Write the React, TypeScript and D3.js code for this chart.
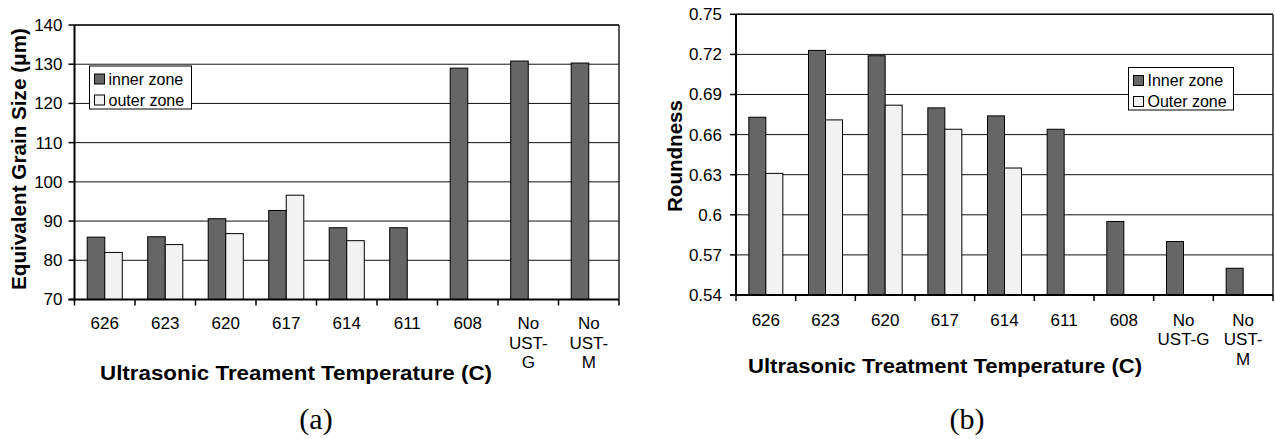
import React from 'react';
import * as d3 from 'd3';

// categories along the x axis (same for both panels)
const categories = ['626', '623', '620', '617', '614', '611', '608', 'No UST-G', 'No UST-M'];
const seriesA = ['inner zone', 'outer zone'];
const seriesB = ['Inner zone', 'Outer zone'];

// (a) equivalent grain size, um
const grainInner = [85.9, 86.0, 90.6, 92.7, 88.3, 88.3, 129.0, 130.8, 130.3];
const grainOuter = [82.0, 84.0, 86.8, 96.6, 85.0, null, null, null, null];
const grainTicks = [70, 80, 90, 100, 110, 120, 130, 140];

// (b) roundness
const roundInner = [0.673, 0.723, 0.719, 0.680, 0.674, 0.664, 0.595, 0.580, 0.560];
const roundOuter = [0.631, 0.671, 0.682, 0.664, 0.635, null, null, null, null];
const roundTicks = [0.54, 0.57, 0.6, 0.63, 0.66, 0.69, 0.72, 0.75];

// tick label wrapping differs a bit between the two panels
const labelLinesA = [['626'], ['623'], ['620'], ['617'], ['614'], ['611'], ['608'], ['No', 'UST-', 'G'], ['No', 'UST-', 'M']];
const labelLinesB = [['626'], ['623'], ['620'], ['617'], ['614'], ['611'], ['608'], ['No', 'UST-G'], ['No', 'UST-', 'M']];

const SANS = '"Liberation Sans", Arial, sans-serif';
const SERIF = '"Liberation Serif", "Times New Roman", serif';
const FILLS = ['#666666', '#f2f2f2'];

type PanelProps = {
  left: number; right: number; top: number; bottom: number;
  domain: [number, number]; ticks: number[];
  inner: (number | null)[]; outer: (number | null)[];
  series: string[]; labelLines: string[][];
  labelY: number; tickGap: number;
  yTitle: string; yTitleX: number; yTitleCY: number; yTitleLen: number;
  xTitle: string; xTitleCX: number; xTitleY: number; xTitleLen: number;
  caption: string; captionX: number; captionY: number;
  legend: { x: number; y: number; w: number; h: number };
  pad: number;
};

const Panel = (p: PanelProps) => {
  const x0 = d3.scaleBand<string>()
    .domain(categories)
    .range([p.left, p.right])
    .paddingInner(p.pad)
    .paddingOuter(p.pad / 2);
  const x1 = d3.scaleBand<string>()
    .domain(p.series)
    .range([0, x0.bandwidth()]);
  const y = d3.scaleLinear().domain(p.domain).range([p.bottom, p.top]);
  const step = x0.step();
  const vals = [p.inner, p.outer];

  return (
    <g>
      {/* plot frame + gridlines */}
      <line x1={p.left} x2={p.right} y1={p.top} y2={p.top} stroke="#222" strokeWidth={1.5} />
      <line x1={p.right} x2={p.right} y1={p.top} y2={p.bottom} stroke="#222" strokeWidth={1.5} />
      {p.ticks.slice(1).map((t) => (
        <line key={'g' + t} x1={p.left} x2={p.right} y1={y(t)} y2={y(t)} stroke="#111" strokeWidth={1} />
      ))}

      {/* bars */}
      {vals.map((arr, si) =>
        arr.map((v, i) =>
          v == null ? null : (
            <rect key={si + '-' + i}
              x={(x0(categories[i]) as number) + (x1(p.series[si]) as number)}
              y={y(v)}
              width={x1.bandwidth()}
              height={p.bottom - y(v)}
              fill={FILLS[si]} stroke="#000" strokeWidth={1} />
          )
        )
      )}

      {/* axes */}
      <line x1={p.left} x2={p.left} y1={p.top} y2={p.bottom} stroke="#000" strokeWidth={2} />
      <line x1={p.left - 6} x2={p.right} y1={p.bottom} y2={p.bottom} stroke="#000" strokeWidth={2} />
      {p.ticks.map((t) => (
        <g key={'t' + t}>
          <line x1={p.left - 6} x2={p.left} y1={y(t)} y2={y(t)} stroke="#000" strokeWidth={1.5} />
          <text x={p.left - p.tickGap} y={y(t)} dy="0.35em" textAnchor="end"
            fontFamily={SANS} fontSize={17}>{String(t)}</text>
        </g>
      ))}
      {d3.range(categories.length + 1).map((i) => (
        <line key={'xt' + i} x1={p.left + i * step} x2={p.left + i * step}
          y1={p.bottom} y2={p.bottom + 6} stroke="#000" strokeWidth={1.5} />
      ))}
      {categories.map((c, i) => {
        const cx = (x0(c) as number) + x0.bandwidth() / 2;
        return (
          <text key={'xl' + c} x={cx} y={p.labelY} textAnchor="middle" fontFamily={SANS} fontSize={17}>
            {p.labelLines[i].map((ln, k) => (
              <tspan key={k} x={cx} y={p.labelY + k * 19.5}>{ln}</tspan>
            ))}
          </text>
        );
      })}

      {/* titles */}
      <text transform={`translate(${p.yTitleX},${p.yTitleCY}) rotate(-90)`} textAnchor="middle"
        fontFamily={SANS} fontWeight="bold" fontSize={20}
        textLength={p.yTitleLen} lengthAdjust="spacingAndGlyphs">{p.yTitle}</text>
      <text x={p.xTitleCX} y={p.xTitleY} textAnchor="middle" fontFamily={SANS} fontWeight="bold" fontSize={20}
        textLength={p.xTitleLen} lengthAdjust="spacingAndGlyphs">{p.xTitle}</text>
      <text x={p.captionX} y={p.captionY} textAnchor="middle" fontFamily={SERIF} fontSize={30}>{p.caption}</text>

      {/* legend */}
      <rect x={p.legend.x} y={p.legend.y} width={p.legend.w} height={p.legend.h} fill="#fff" stroke="#000" strokeWidth={1} />
      {p.series.map((s, si) => (
        <g key={'lg' + s}>
          <rect x={p.legend.x + 5} y={p.legend.y + 8 + si * 21} width={10} height={10}
            fill={FILLS[si]} stroke="#000" strokeWidth={1} />
          <text x={p.legend.x + 19} y={p.legend.y + 13 + si * 21} dy="0.36em"
            fontFamily={SANS} fontSize={16}>{s}</text>
        </g>
      ))}
    </g>
  );
};

export default function App() {
  return (
    <svg width={1275} height={439} style={{ position: 'absolute', left: 0, top: 0, background: '#fff' }}>
      <Panel left={74.5} right={619} top={25} bottom={299.5}
        domain={[70, 140]} ticks={grainTicks}
        inner={grainInner} outer={grainOuter} series={seriesA} labelLines={labelLinesA}
        labelY={329} tickGap={12} pad={0.42}
        yTitle="Equivalent Grain Size (μm)" yTitleX={26} yTitleCY={159} yTitleLen={262}
        xTitle="Ultrasonic Treament Temperature (C)" xTitleCX={296} xTitleY={380} xTitleLen={392}
        caption="(a)" captionX={316} captionY={429}
        legend={{ x: 89.5, y: 66, w: 102, h: 43 }} />
      <Panel left={736} right={1273} top={14.3} bottom={295}
        domain={[0.54, 0.75]} ticks={roundTicks}
        inner={roundInner} outer={roundOuter} series={seriesB} labelLines={labelLinesB}
        labelY={325.5} tickGap={14} pad={0.43}
        yTitle="Roundness" yTitleX={682} yTitleCY={156} yTitleLen={112}
        xTitle="Ultrasonic Treatment Temperature (C)" xTitleCX={945} xTitleY={373} xTitleLen={394}
        caption="(b)" captionX={967} captionY={429}
        legend={{ x: 1128.5, y: 67.5, w: 105, h: 42.5 }} />
    </svg>
  );
}
